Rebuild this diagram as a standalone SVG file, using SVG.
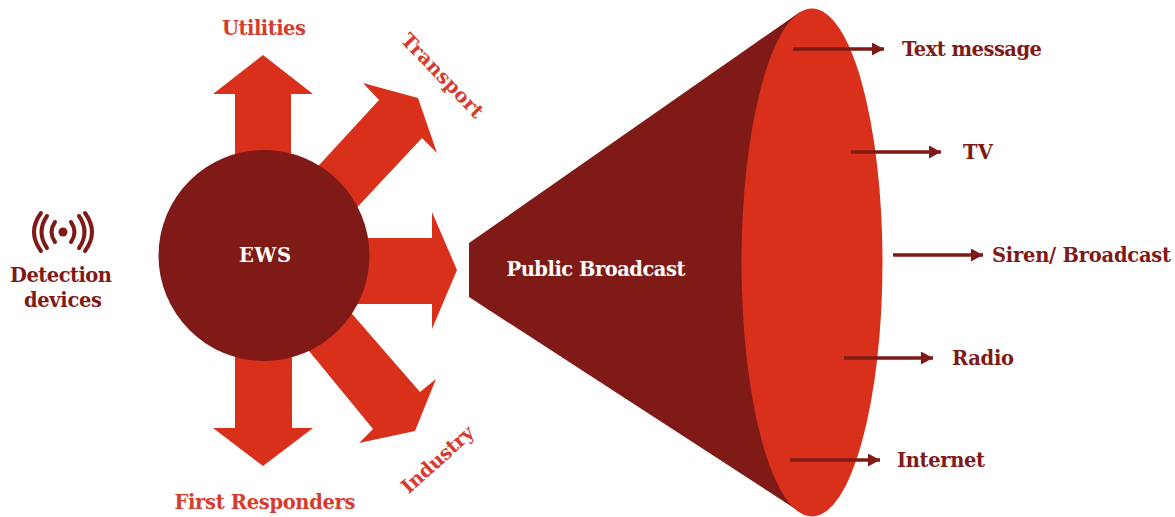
<svg xmlns="http://www.w3.org/2000/svg" width="1175" height="517" viewBox="0 0 1175 517">
<style>
.t{font-family:"DejaVu Serif","Liberation Serif",serif;font-weight:700;font-size:19.500px}
.d{fill:#7f1a17}.r{fill:#d8301b}.w{fill:#fff}.m{text-anchor:middle}
.lr{fill:#d63c2e}
.c{stroke:#7f1a17;stroke-width:3.4;fill:none;marker-end:url(#a)}
.ic{stroke:#7f1a17;stroke-width:4;fill:none;stroke-linecap:round}
</style>
<defs><marker id="a" markerUnits="userSpaceOnUse" markerWidth="14" markerHeight="14" refX="12" refY="6.500" orient="auto"><path d="M0 0L12 6.500L0 13Z" fill="#7f1a17"/></marker></defs>
<rect width="1175" height="517" fill="#fff"/>
<g id="node-detection">
<circle cx="63" cy="232" r="4.500" class="d"/>
<path class="ic" d="M55 222Q48 232 55 242M71 222Q78 232 71 242M47 216Q36 232 47 248M79 216Q90 232 79 248M41 213Q27 232 41 251M85 213Q99 232 85 251"/>
<text class="t d m" x="61" y="282" textLength="102">Detection</text>
<text class="t d m" x="63" y="307" textLength="78">devices</text>
</g>
<g id="node-utilities">
<path class="r" d="M263 55L313 94H291V180H235V94H213Z"/>
<text class="t lr m" x="264" y="35" textLength="84">Utilities</text>
</g>
<g id="node-transport">
<path class="r" d="M418 98L437 153L422 138L350 215L310 175L379 100L363 83Z"/>
<text class="t lr m" transform="translate(442 76) rotate(46)" x="0" y="6" textLength="109">Transport</text>
</g>
<g id="node-center-arrow"><path class="r" d="M457 270L432 212V238H340V304H432V329Z"/></g>
<g id="node-industry">
<path class="r" d="M415 431L359 443L373 429L300 340L340 300L420 392L436 379Z"/>
<text class="t lr m" transform="translate(438 460) rotate(-42)" x="0" y="6" textLength="90">Industry</text>
</g>
<g id="node-responders">
<path class="r" d="M263 466L313 428H292V330H235V428H213Z"/>
<text class="t lr m" x="265" y="509" textLength="181">First Responders</text>
</g>
<g id="node-ews">
<circle cx="264" cy="255.500" r="105.500" class="d"/>
<text class="t w m" x="265" y="262" textLength="52">EWS</text>
</g>
<g id="node-broadcast">
<path class="d" d="M469 243L800 12V512L469 297Z"/>
<ellipse cx="812" cy="262.500" rx="70.500" ry="254" class="r"/>
<text class="t w m" x="596" y="276" textLength="179">Public Broadcast</text>
</g>
<g id="connectors">
<path class="c" d="M793 49H884"/>
<path class="c" d="M851 152H941"/>
<path class="c" d="M893 255H983"/>
<path class="c" d="M844 358H933"/>
<path class="c" d="M790 460H880"/>
</g>
<g id="node-text"><text class="t d" x="902" y="56" textLength="140">Text message</text></g>
<g id="node-tv"><text class="t d" x="963" y="159" textLength="30">TV</text></g>
<g id="node-siren"><text class="t d" x="992" y="262" textLength="179">Siren/ Broadcast</text></g>
<g id="node-radio"><text class="t d" x="952" y="365" textLength="62">Radio</text></g>
<g id="node-internet"><text class="t d" x="897" y="467" textLength="88">Internet</text></g>
</svg>
